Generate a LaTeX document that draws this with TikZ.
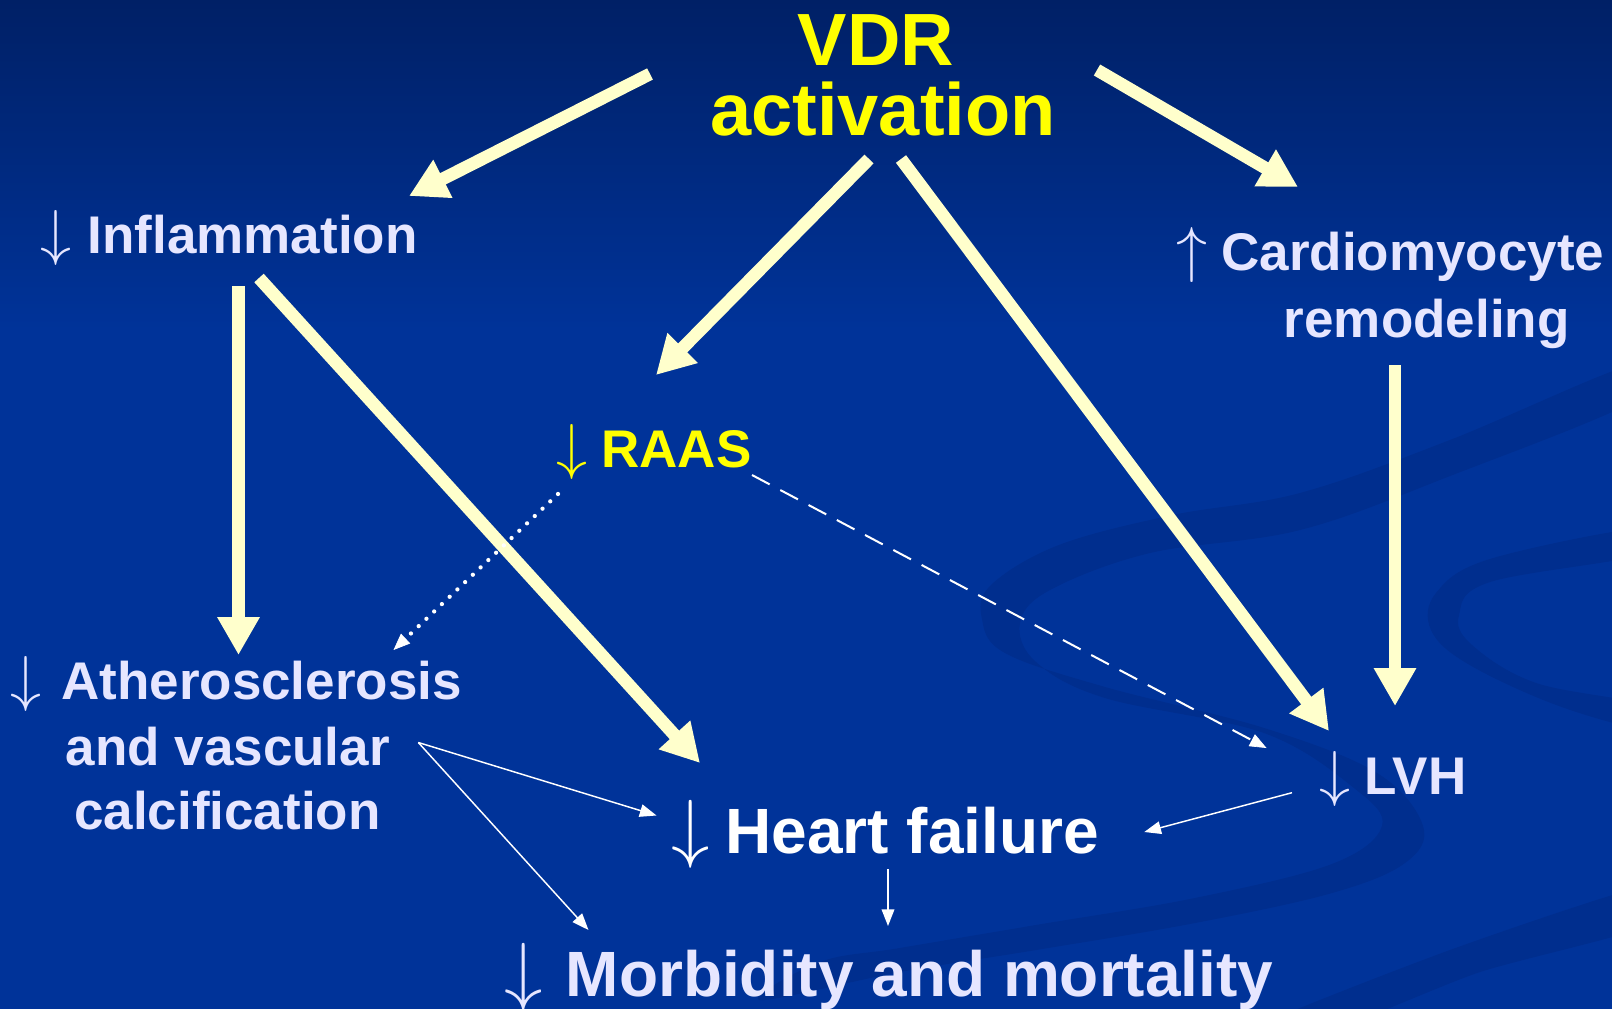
\documentclass[tikz,border=0pt]{standalone}
\usepackage{fontspec}
\setmainfont{Liberation Sans}
\usepackage{graphicx}
\usetikzlibrary{arrows.meta}
\definecolor{bgtop}{RGB}{0,32,102}
\definecolor{bgmain}{RGB}{0,51,153}
\definecolor{swirl}{RGB}{0,46,142}
\definecolor{pale}{RGB}{255,255,204}
\definecolor{lav}{RGB}{230,230,255}
\definecolor{vdryellow}{RGB}{255,255,0}
\newcommand\dnS{\scalebox{4.65}{\fontsize{10}{12}\selectfont$\downarrow$}}
\newcommand\upS{\scalebox{4.65}{\fontsize{10}{12}\selectfont$\uparrow$}}
\newcommand\dnL{\scalebox{5.75}{\fontsize{10}{12}\selectfont$\downarrow$}}
\tikzset{
  lbl/.style={anchor=base west, inner sep=0pt, text=lav, font=\bfseries\fontsize{39.75}{39.75}\selectfont},
  biglbl/.style={lbl, font=\bfseries\fontsize{48}{48}\selectfont},
  titlelbl/.style={anchor=base, inner sep=0pt, text=vdryellow, font=\bfseries\fontsize{55.5}{55.5}\selectfont},
  thickarr/.style={draw=pale, line width=9.5pt, -{Triangle[length=28.5pt,width=30pt]}},
  thinarr/.style={draw=white, line width=1.1pt, -{Triangle[length=12.5pt,width=9.5pt]}},
  dashedarr/.style={draw=white, line width=1.5pt, dash pattern=on 15pt off 9pt, -{Triangle[length=12.5pt,width=10pt,line width=0.5pt]}},
  dottedarr/.style={draw=white, line width=3.2pt, line cap=round, dash pattern=on 0pt off 8pt, -{Triangle[length=12.5pt,width=10pt,line width=0.5pt]}}
}
\begin{document}
\begin{tikzpicture}[x=0.75pt,y=-0.75pt]
\useasboundingbox (0,0) rectangle (1612,1009);
% background
\fill[bgmain] (0,0) rectangle (1612,1009);
\shade[top color=bgtop, bottom color=bgmain] (0,0) rectangle (1612,330);
% swirl bands
\fill[swirl] plot[smooth cycle, tension=0.6] coordinates {
  (1640,362) (1450,440) (1300,493) (1173,515) (1059,545) (991,585) (982,619) (1005,653)
  (1105,687) (1264,728) (1377,773) (1423,826) (1405,863) (1332,893) (1195,923)
  (1036,950) (900,972) (760,1000)
  (820,962) (900,948) (1036,925) (1195,898) (1332,864) (1382,826) (1354,788)
  (1264,733) (1105,698) (1036,662) (1020,623) (1050,590) (1150,553) (1300,530) (1450,476) (1640,398)};
\fill[swirl] plot[smooth cycle, tension=0.6] coordinates {
  (1650,527) (1490,559) (1436,593) (1431,630) (1468,664) (1559,706) (1650,730)
  (1650,706) (1536,683) (1472,645) (1459,615) (1490,582) (1650,553)};
\fill[swirl] plot[smooth cycle, tension=0.4] coordinates {
  (1650,885) (1450,950) (1250,1030) (1331,1030) (1480,972) (1650,925)};
% labels
\node[titlelbl] (vdr1) at (876,66) {VDR};
\node[titlelbl] (vdr2) at (883,136) {activation};
\node[lbl] (infl) at (40.5,253) {\dnS\hspace{12pt}Inflammation};
\node[lbl] (card1) at (1176,271) {\upS\hspace{10.5pt}Cardiomyocyte};
\node[lbl] (card2) at (1283.6,337) {remodeling};
\node[lbl, text=vdryellow] (raas) at (556,467) {\dnS\hspace{10.5pt}RAAS};
\node[lbl] (ath1) at (10,699) {\dnS\hspace{15pt}Atherosclerosis};
\node[lbl] (ath2) at (65.5,765) {and vascular};
\node[lbl] (ath3) at (74,829) {calcification};
\node[lbl] (lvh) at (1319,794) {\dnS\hspace{10.5pt}LVH};
\node[biglbl, text=white] (hf) at (671,853) {\dnL\hspace{12pt}Heart failure};
\node[biglbl] (morb) at (504.5,996) {\dnL\hspace{17pt}Morbidity and mortality};
% connector end points
\coordinate (vdrA) at (650,74);
\coordinate (vdrB) at (1097,70);
\coordinate (vdrC) at (869,159);
\coordinate (vdrD) at (901,159);
\coordinate (inflIn) at (409,196);
\coordinate (cardIn) at (1298,187);
\coordinate (raasIn) at (656,375);
\coordinate (lvhInA) at (1329,731);
\coordinate (inflOutA) at (238.5,286);
\coordinate (inflOutB) at (259,278);
\coordinate (athIn) at (238.5,655);
\coordinate (hfInA) at (700,763);
\coordinate (cardOut) at (1395,365);
\coordinate (lvhInB) at (1395,706);
\coordinate (raasOutA) at (558,494);
\coordinate (athInB) at (393.5,650);
\coordinate (raasOutB) at (752,475);
\coordinate (lvhInC) at (1266.5,748);
\coordinate (athOut) at (418.3,742.5);
\coordinate (hfInB) at (656.5,815.5);
\coordinate (morbInA) at (588.5,930);
\coordinate (lvhOut) at (1292,792.7);
\coordinate (hfInC) at (1144.3,832);
\coordinate (hfOut) at (888,869);
\coordinate (morbInB) at (888,926);
% thick arrows
\draw[thickarr] (vdrA) -- (inflIn);
\draw[thickarr] (vdrB) -- (cardIn);
\draw[thickarr] (vdrC) -- (raasIn);
\draw[thickarr] (vdrD) -- (lvhInA);
\draw[thickarr] (inflOutA) -- (athIn);
\draw[thickarr] (inflOutB) -- (hfInA);
\draw[thickarr] (cardOut) -- (lvhInB);
% thin arrows
\draw[dottedarr] (raasOutA) -- (athInB);
\draw[dashedarr] (raasOutB) -- (lvhInC);
\draw[thinarr] (athOut) -- (hfInB);
\draw[thinarr] (athOut) -- (morbInA);
\draw[thinarr] (lvhOut) -- (hfInC);
\draw[thinarr] (hfOut) -- (morbInB);
\end{tikzpicture}
\end{document}
